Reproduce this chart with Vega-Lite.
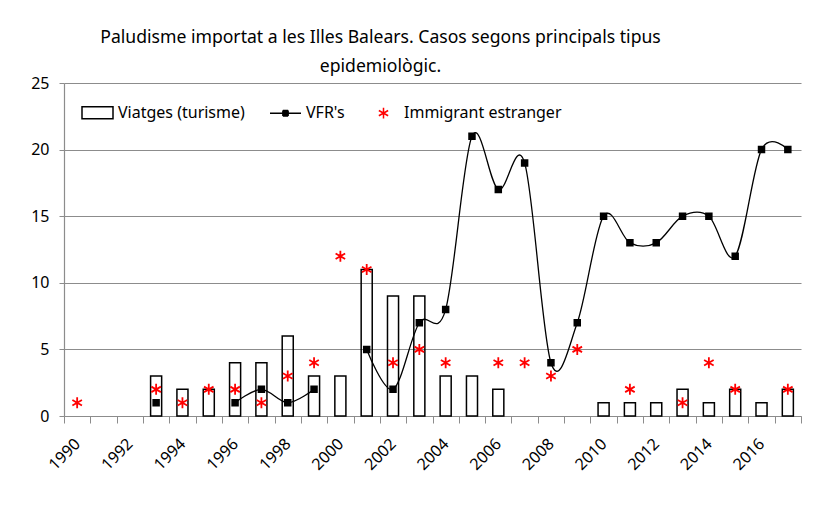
{
  "$schema": "https://vega.github.io/schema/vega-lite/v6.json",
  "width": 737,
  "height": 333,
  "autosize": {"type": "none"},
  "padding": {"left": 64, "top": 83, "right": 21, "bottom": 99},
  "background": "white",
  "config": {
    "font": "Noto Sans",
    "view": {"stroke": null},
    "axisY": {
      "grid": true,
      "gridColor": "#8c8c8c",
      "gridWidth": 1.2,
      "domainColor": "#8c8c8c",
      "domainWidth": 1.2,
      "tickColor": "#8c8c8c",
      "tickSize": 5,
      "labelFontSize": 16,
      "labelColor": "black",
      "labelPadding": 10
    },
    "axisX": {
      "grid": false,
      "domainColor": "#8c8c8c",
      "domainWidth": 1.2,
      "tickColor": "#8c8c8c",
      "tickSize": 7,
      "tickBand": "extent",
      "labelAngle": -45,
      "labelAlign": "right",
      "labelBaseline": "middle",
      "labelFontSize": 16,
      "labelColor": "black",
      "labelPadding": 18
    }
  },
  "title": {
    "text": ["Paludisme importat a les Illes Balears. Casos segons principals tipus", "epidemiològic."],
    "fontSize": 17.6,
    "fontWeight": "normal",
    "color": "black",
    "anchor": "middle",
    "dx": -52,
    "dy": 8,
    "offset": 7,
    "lineHeight": 29
  },
  "data": {
    "values": [
      {"year": 1990, "viatges": null, "vfr": null, "immigrant": 1},
      {"year": 1991, "viatges": null, "vfr": null, "immigrant": null},
      {"year": 1992, "viatges": null, "vfr": null, "immigrant": null},
      {"year": 1993, "viatges": 3, "vfr": 1, "immigrant": 2},
      {"year": 1994, "viatges": 2, "vfr": null, "immigrant": 1},
      {"year": 1995, "viatges": 2, "vfr": null, "immigrant": 2},
      {"year": 1996, "viatges": 4, "vfr": 1, "immigrant": 2},
      {"year": 1997, "viatges": 4, "vfr": 2, "immigrant": 1},
      {"year": 1998, "viatges": 6, "vfr": 1, "immigrant": 3},
      {"year": 1999, "viatges": 3, "vfr": 2, "immigrant": 4},
      {"year": 2000, "viatges": 3, "vfr": null, "immigrant": 12},
      {"year": 2001, "viatges": 11, "vfr": 5, "immigrant": 11},
      {"year": 2002, "viatges": 9, "vfr": 2, "immigrant": 4},
      {"year": 2003, "viatges": 9, "vfr": 7, "immigrant": 5},
      {"year": 2004, "viatges": 3, "vfr": 8, "immigrant": 4},
      {"year": 2005, "viatges": 3, "vfr": 21, "immigrant": null},
      {"year": 2006, "viatges": 2, "vfr": 17, "immigrant": 4},
      {"year": 2007, "viatges": null, "vfr": 19, "immigrant": 4},
      {"year": 2008, "viatges": null, "vfr": 4, "immigrant": 3},
      {"year": 2009, "viatges": null, "vfr": 7, "immigrant": 5},
      {"year": 2010, "viatges": 1, "vfr": 15, "immigrant": null},
      {"year": 2011, "viatges": 1, "vfr": 13, "immigrant": 2},
      {"year": 2012, "viatges": 1, "vfr": 13, "immigrant": null},
      {"year": 2013, "viatges": 2, "vfr": 15, "immigrant": 1},
      {"year": 2014, "viatges": 1, "vfr": 15, "immigrant": 4},
      {"year": 2015, "viatges": 2, "vfr": 12, "immigrant": 2},
      {"year": 2016, "viatges": 1, "vfr": 20, "immigrant": null},
      {"year": 2017, "viatges": 2, "vfr": 20, "immigrant": 2}
    ]
  },
  "encoding": {
    "x": {
      "field": "year",
      "type": "ordinal",
      "title": null,
      "scale": {"paddingInner": 0, "paddingOuter": 0},
      "axis": {"labelExpr": "datum.value % 2 == 0 ? datum.label : ''"}
    }
  },
  "layer": [
    {
      "mark": {"type": "bar", "fill": "transparent", "strokeWidth": 1.5, "width": {"band": 0.42}},
      "encoding": {
        "y": {"field": "viatges", "type": "quantitative", "title": null, "scale": {"domain": [0, 25], "nice": false}, "axis": {"values": [0, 5, 10, 15, 20, 25]}},
        "stroke": {
          "datum": "Viatges (turisme)",
          "type": "nominal",
          "scale": {"domain": ["Viatges (turisme)", "VFR's", "Immigrant estranger"], "range": ["black", "black", "red"]},
          "legend": {
            "orient": "none",
            "legendX": 17,
            "legendY": 13,
            "direction": "horizontal",
            "title": null,
            "padding": 0,
            "symbolSize": 961,
            "symbolStrokeWidth": 1.5,
            "symbolType": {"expr": "datum.value === 'Viatges (turisme)' ? 'M-1,-0.39H1V0.39H-1Z' : datum.value === \"VFR's\" ? 'M-1,0H1M-0.17,-0.17H0.17M-0.17,-0.085H0.17M-0.17,0.085H0.17M-0.17,0.17H0.17M-0.17,-0.17V0.17M0.17,-0.17V0.17' : 'M0,-0.34V0.34M-0.3,-0.17L0.3,0.17M-0.3,0.17L0.3,-0.17'"},
            "labelFontSize": 16,
            "labelColor": "black",
            "labelOffset": 4,
            "columnPadding": 22
          }
        }
      }
    },
    {
      "mark": {"type": "line", "interpolate": "cardinal", "tension": 0, "strokeWidth": 1.3, "invalid": "break-paths-filter-domains"},
      "encoding": {
        "y": {"field": "vfr", "type": "quantitative", "title": null},
        "stroke": {"datum": "VFR's", "type": "nominal"}
      }
    },
    {
      "mark": {"type": "square", "size": 30, "filled": true, "color": "black", "opacity": 1},
      "encoding": {
        "y": {"field": "vfr", "type": "quantitative", "title": null},
        "stroke": {"datum": "VFR's", "type": "nominal"}
      }
    },
    {
      "mark": {"type": "point", "shape": "M0,-1V1M-0.87,-0.5L0.87,0.5M-0.87,0.5L0.87,-0.5", "size": 121, "strokeWidth": 1.8, "opacity": 1},
      "encoding": {
        "y": {"field": "immigrant", "type": "quantitative", "title": null},
        "stroke": {"datum": "Immigrant estranger", "type": "nominal"}
      }
    }
  ]
}
